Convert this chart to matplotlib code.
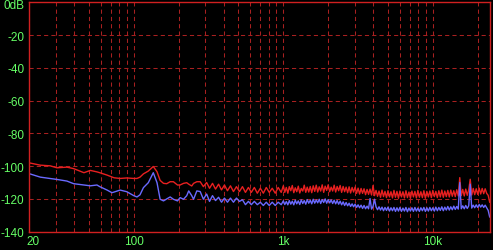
import matplotlib
matplotlib.use("Agg")
import matplotlib.pyplot as plt
from matplotlib.ticker import FixedLocator, NullFormatter

plt.rcParams['font.family'] = ['Liberation Sans', 'DejaVu Sans']

# frequency bins (Hz) shared by both channels
freq = [20, 23.7, 27.6, 30.6, 35.7, 39.6, 46.4, 51.2, 56.7, 59.2, 62.9, 66, 71.4, 73.8, 81, 89.8,
        100, 105, 110, 116, 125, 135, 143, 150, 158, 166, 175, 184, 196, 204, 215, 226, 233, 244, 251, 264,
        278, 292, 307, 321, 336, 352, 369, 386, 404, 423,
        443, 464, 486, 509, 533, 558, 584, 611, 640, 670,
        702, 735, 769, 805, 843, 883, 924, 968,
        1000, 1023, 1047, 1072, 1096, 1122, 1148, 1175, 1202, 1230,
        1259, 1288, 1318, 1349, 1380, 1413, 1445, 1479, 1514, 1549,
        1585, 1622, 1660, 1698, 1738, 1778, 1820, 1862, 1905, 1950,
        1995, 2042, 2089, 2138, 2188, 2239, 2291, 2344, 2399, 2455,
        2512, 2570, 2630, 2692, 2754, 2818, 2884, 2951, 3020, 3090,
        3162, 3236, 3311, 3388, 3467, 3548, 3631, 3715, 3802, 3890,
        3981, 4074, 4169, 4266, 4365, 4467, 4571, 4677, 4786, 4898,
        5012, 5129, 5248, 5370, 5495, 5623, 5754, 5888, 6026, 6166,
        6310, 6457, 6607, 6761, 6918, 7079, 7244, 7413, 7586, 7762,
        7943, 8128, 8318, 8511, 8710, 8913, 9120, 9333, 9550, 9772,
        10000, 10233, 10471, 10715, 10965, 11220, 11482, 11749, 12023, 12303,
        12589, 12882, 13183, 13490, 13804, 14125, 14454, 14791, 15136, 15488,
        15849, 16218, 16596, 16982, 17378, 17783, 18197, 18621, 19055, 19498,
        19953, 20417, 20893, 21380, 21878, 22387, 22909, 23442, 24000]

# left channel level (dB)
red_db = [-98, -99.4, -99.8, -101.0, -100.6, -101.5, -104, -102.6, -103.5, -104, -104.8, -105.4, -106.6, -107.1, -107.5, -107.2,
          -107.5, -107.5, -106.7, -104.7, -103, -100.2, -103.4, -108.7, -110.5, -110.7, -109.5, -109.5, -111.5, -111.5, -110.5, -110.1, -111, -112.1, -110.5, -109.5,
          -109.5, -112.5, -110.0, -113.5, -110.5, -114.0, -111.0, -114.5, -111.5, -115.0,
          -112.0, -115.5, -112.5, -115.5, -112.5, -116.0, -113.0, -116.0, -113.0, -116.5,
          -113.5, -116.5, -113.0, -116.0, -113.5, -116.5, -113.0, -116.0,
          -112.0, -116.0, -113.0, -116.5, -112.5, -115.0, -111.8, -116.2, -113.2, -115.6,
          -112.2, -116.4, -113.6, -115.2, -111.6, -116.0, -112.8, -115.8, -112.4, -116.2,
          -112.0, -115.4, -111.6, -115.8, -112.6, -115.2, -111.4, -116.0, -112.2, -114.8,
          -111.4, -115.6, -112.8, -115.2, -111.6, -115.8, -112.4, -115.0, -111.8, -116.0,
          -112.4, -115.6, -112.8, -116.2, -112.6, -116.4, -113.0, -115.8, -112.8, -116.6,
          -113.4, -117.0, -113.6, -116.6, -113.8, -117.4, -114.2, -117.2, -114.0, -117.6,
          -111.8, -118.0, -114.8, -118.4, -115.2, -119.0, -114.6, -118.6, -115.4, -119.2,
          -115.0, -118.8, -115.6, -119.4, -114.8, -119.0, -115.4, -119.6, -115.2, -118.8,
          -115.6, -119.4, -115.0, -119.2, -115.8, -119.6, -115.2, -118.8, -115.4, -119.4,
          -114.8, -119.0, -115.6, -119.2, -115.0, -119.6, -115.4, -118.8, -115.2, -119.2,
          -114.8, -118.6, -115.4, -119.2, -115.0, -118.8, -114.6, -119.0, -115.2, -118.6,
          -114.8, -118.8, -114.6, -118.4, -115.0, -118.6, -114.4, -118.2, -107.0, -118.0,
          -114.2, -118.2, -114.0, -117.8, -114.4, -108.0, -117.6, -113.6, -117.4, -113.8,
          -117.2, -113.4, -117.0, -113.6, -116.8, -113.8, -116.6, -117.8, -122.0]

# right channel level (dB)
blue_db = [-104.6, -106.7, -107.5, -108.1, -109.1, -110.7, -111.5, -112, -111.5, -112.5, -113.6, -114.5, -116.2, -115.8, -114.6, -115.6,
           -118, -118.8, -117.5, -113.1, -110.1, -104, -110.1, -120.2, -121.2, -120, -118.8, -120.2, -121.2, -119.2, -120.2, -118, -115.1, -118, -120.2, -115.1,
           -115.5, -120.2, -117.0, -121.5, -118.0, -121.0, -119.0, -122.0, -119.5, -122.0,
           -119.5, -122.0, -119.5, -121.5, -120.5, -123.5, -121.5, -123.5, -121.5, -123.5,
           -122.0, -124.0, -122.0, -124.0, -122.0, -124.0, -122.0, -123.5,
           -121.2, -123.4, -121.6, -123.6, -121.0, -123.2, -121.4, -123.6, -120.8, -123.0,
           -121.2, -123.4, -120.6, -122.8, -121.0, -123.2, -120.4, -122.6, -120.8, -123.0,
           -120.2, -122.6, -120.6, -122.4, -120.2, -122.8, -120.4, -122.2, -120.0, -122.6,
           -120.4, -122.4, -120.6, -122.8, -120.8, -123.0, -121.0, -123.2, -121.4, -123.6,
           -121.8, -124.0, -122.2, -124.2, -122.6, -124.6, -123.0, -124.8, -123.2, -125.2,
           -123.6, -125.4, -123.8, -125.8, -124.0, -126.0, -124.4, -126.0, -119.8, -126.2,
           -124.6, -120.2, -124.8, -126.6, -124.8, -126.8, -125.0, -127.2, -125.2, -127.0,
           -125.0, -127.4, -125.4, -127.2, -125.2, -127.6, -125.4, -127.4, -125.2, -127.6,
           -125.6, -127.4, -125.2, -127.8, -125.6, -127.4, -125.4, -127.6, -125.2, -127.4,
           -125.6, -127.6, -125.4, -127.2, -125.2, -127.6, -125.4, -127.4, -125.2, -127.2,
           -125.4, -127.4, -125.0, -127.2, -125.2, -127.0, -124.8, -127.2, -125.0, -126.8,
           -124.6, -126.8, -124.8, -126.6, -124.4, -126.4, -124.6, -126.2, -110.0, -126.0,
           -124.2, -126.0, -124.0, -125.8, -124.2, -111.0, -125.6, -123.8, -125.4, -123.6,
           -125.2, -123.4, -125.0, -123.6, -125.2, -123.8, -125.4, -127.0, -131.0]

x_ticks = [20, 100, 1000, 10000]
x_labels = ['20', '100', '1k', '10k']
x_minor = [30, 40, 50, 60, 70, 80, 90, 200, 300, 400, 500, 600, 700, 800, 900,
           2000, 3000, 4000, 5000, 6000, 7000, 8000, 9000, 20000]
y_ticks = [0, -20, -40, -60, -80, -100, -120, -140]
y_labels = ['0dB', '-20', '-40', '-60', '-80', '-100', '-120', '-140']

green = '#66ff66'
fsize = 8.5

fig = plt.figure(figsize=(4.93, 2.51), dpi=100)
fig.patch.set_facecolor('black')
ax = fig.add_axes([0.0594, 0.0729, 0.9339, 0.914])
ax.set_facecolor('black')

ax.semilogx(freq, red_db, color='#e82020', lw=1.0)
ax.semilogx(freq, blue_db, color='#6a6aff', lw=1.0)

ax.set_xlim(20, 24000)
ax.set_ylim(-140, 0)

ax.set_xticks(x_ticks)
ax.set_xticklabels([''] + x_labels[1:])
ax.xaxis.set_minor_locator(FixedLocator(x_minor))
ax.xaxis.set_minor_formatter(NullFormatter())
ax.set_yticks(y_ticks)
ax.set_yticklabels([''] + y_labels[1:])

ax.tick_params(which='both', length=0, colors=green, labelsize=fsize)
ax.tick_params(axis='x', pad=2.5)
ax.tick_params(axis='y', pad=3.6)

# first labels sit inside the frame edge in the original
ax.annotate(y_labels[0], xy=(0, y_ticks[0]), xycoords=('axes fraction', 'data'),
            xytext=(-3.6, -1.8), textcoords='offset points', ha='right', va='center',
            color=green, fontsize=fsize)
ax.annotate(x_labels[0], xy=(x_ticks[0], 0), xycoords=('data', 'axes fraction'),
            xytext=(2.8, -2.5), textcoords='offset points', ha='center', va='top',
            color=green, fontsize=fsize)

ax.grid(True, which='both', color='#a82020', linestyle=(0, (4, 3)), linewidth=0.75)
for s in ax.spines.values():
    s.set_color('#d02020')
    s.set_linewidth(1.0)

fig.savefig('out.png', dpi=100, facecolor='black')
